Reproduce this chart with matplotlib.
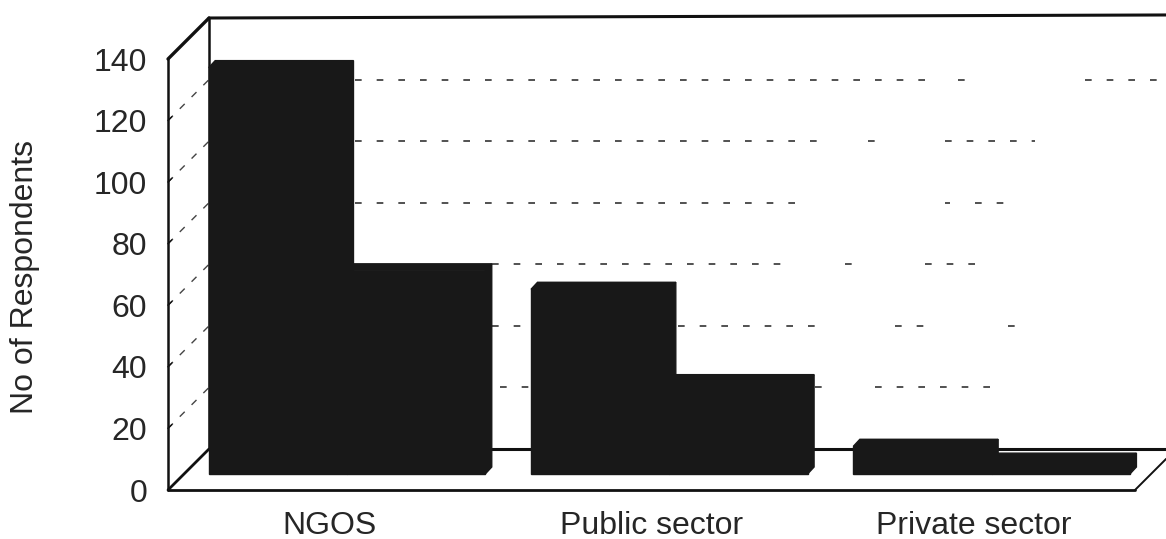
import matplotlib
matplotlib.use("Agg")
import matplotlib.pyplot as plt

# Survey counts per sector, two adjacent columns per category
categories = ["NGOS", "Public sector", "Private sector"]
series_a = [132, 60, 9]
series_b = [66, 30, 4.5]
y_ticks = [0, 20, 40, 60, 80, 100, 120, 140]
y_title = "No of Respondents"

W, H = 1166, 539
INK = "#181818"
TEXT = "#262626"

plt.rcParams["font.family"] = ["Liberation Sans", "DejaVu Sans"]
fig = plt.figure(figsize=(W / 100, H / 100), dpi=100, facecolor="white")

# The axes rectangle is the front plane of the box; depth is an oblique offset
LEFT, RIGHT, BOTTOM, TOP = 168, 1135, 490, 59
ax = fig.add_axes([LEFT / W, 1 - BOTTOM / H, (RIGHT - LEFT) / W, (BOTTOM - TOP) / H])
ax.set_xlim(0, 3)
ax.set_ylim(0, 140)
ax.patch.set_alpha(0)
for s in ax.spines.values():
    s.set_visible(False)

ux = (RIGHT - LEFT) / 3   # pixels per category
uy = (BOTTOM - TOP) / 140  # pixels per respondent
DX, DY = 41 / ux, 41 / uy  # wall depth
BAR_SHIFT_X, BAR_SHIFT_Y = 17 / ux, 16 / uy  # columns stand inside the floor
BAR_DX, BAR_DY = 6.5 / ux, 7 / uy  # column depth
BAR_W = 0.429


def line(xs, ys, lw=2.0, **kw):
    ax.plot(xs, ys, color=kw.pop("color", "#111111"), lw=lw, clip_on=False,
            solid_capstyle="round", **kw)


def px(x):
    return (x - LEFT) / ux


# Back wall gridlines, which fade out in stretches across the page
grid_spans = {
    120: [(355, 930), (958, 966), (1085, 1160)],
    100: [(355, 830), (868, 875), (945, 1035)],
    80: [(355, 800), (945, 950), (975, 1008)],
    60: [(492, 785), (845, 852), (925, 980)],
    40: [(492, 532), (678, 820), (895, 930), (1008, 1015)],
    20: [(500, 532), (815, 835), (875, 1005)],
}
for v, spans in grid_spans.items():
    for a, b in spans:
        ax.plot([px(a), px(b)], [v + DY, v + DY], color="#333333", lw=1.2,
                ls=(0, (4, 9)), clip_on=False, zorder=1)

# Side wall gridlines and short ticks on the front edge
for v in y_ticks[1:-1]:
    ax.plot([0, DX], [v, v + DY], color="#444444", lw=1.0,
            ls=(0, (5, 7)), clip_on=False, zorder=1)
    line([0, 0.012], [v, v + 0.012 * ux / uy], lw=1.0)

# Box outline
line([0, 3], [0, 0], lw=2.0)                              # front floor edge
line([DX, 3 + DX + 0.02], [DY, DY], lw=2.2)               # back floor edge
line([0, DX], [0, DY], lw=2.0)                            # floor, left
line([3, 3 + DX * 0.76], [0, DY * 0.76], lw=1.4)          # floor, right
line([0, 0], [0, 140], lw=1.8)                            # front vertical
line([DX, DX], [DY, 140 + DY], lw=1.8)                    # back vertical
line([0, DX], [140, 140 + DY], lw=2.4)                    # top, left
line([DX, 3 + DX + 0.02], [140 + DY, 140 + DY + 1], lw=2.2)  # top edge

# Columns: front face through bar(), top and side as oblique faces
for i, (a, b) in enumerate(zip(series_a, series_b)):
    x0 = i + 0.5 - 0.4305 + BAR_SHIFT_X + 0.004
    for x, v in ((x0, a), (x0 + BAR_W, b)):
        ax.bar(x, v, BAR_W, bottom=BAR_SHIFT_Y, align="edge", color=INK,
               edgecolor=INK, lw=1.0, zorder=3, clip_on=False)
        top = BAR_SHIFT_Y + v
        ax.fill([x, x + BAR_DX, x + BAR_W + BAR_DX, x + BAR_W],
                [top, top + BAR_DY, top + BAR_DY, top], facecolor=INK,
                edgecolor=INK, lw=1.0, zorder=3, clip_on=False)
        ax.fill([x + BAR_W, x + BAR_W + BAR_DX, x + BAR_W + BAR_DX, x + BAR_W],
                [BAR_SHIFT_Y, BAR_SHIFT_Y + BAR_DY, top + BAR_DY, top],
                facecolor=INK, edgecolor=INK, lw=1.0, zorder=3, clip_on=False)

ax.set_yticks(y_ticks)
ax.set_yticklabels([str(t) for t in y_ticks], fontsize=23, color=TEXT)
ax.set_xticks([0.5, 1.5, 2.5])
ax.set_xticklabels(categories, fontsize=23, color=TEXT)
ax.tick_params(axis="y", length=0, pad=15)
ax.tick_params(axis="x", length=0, pad=15)

ax.set_ylabel(y_title, fontsize=23, color=TEXT)
ax.yaxis.set_label_coords((40 - LEFT) / (RIGHT - LEFT), (BOTTOM - 277) / (BOTTOM - TOP))

fig.savefig("out.png", dpi=100, facecolor="white")
